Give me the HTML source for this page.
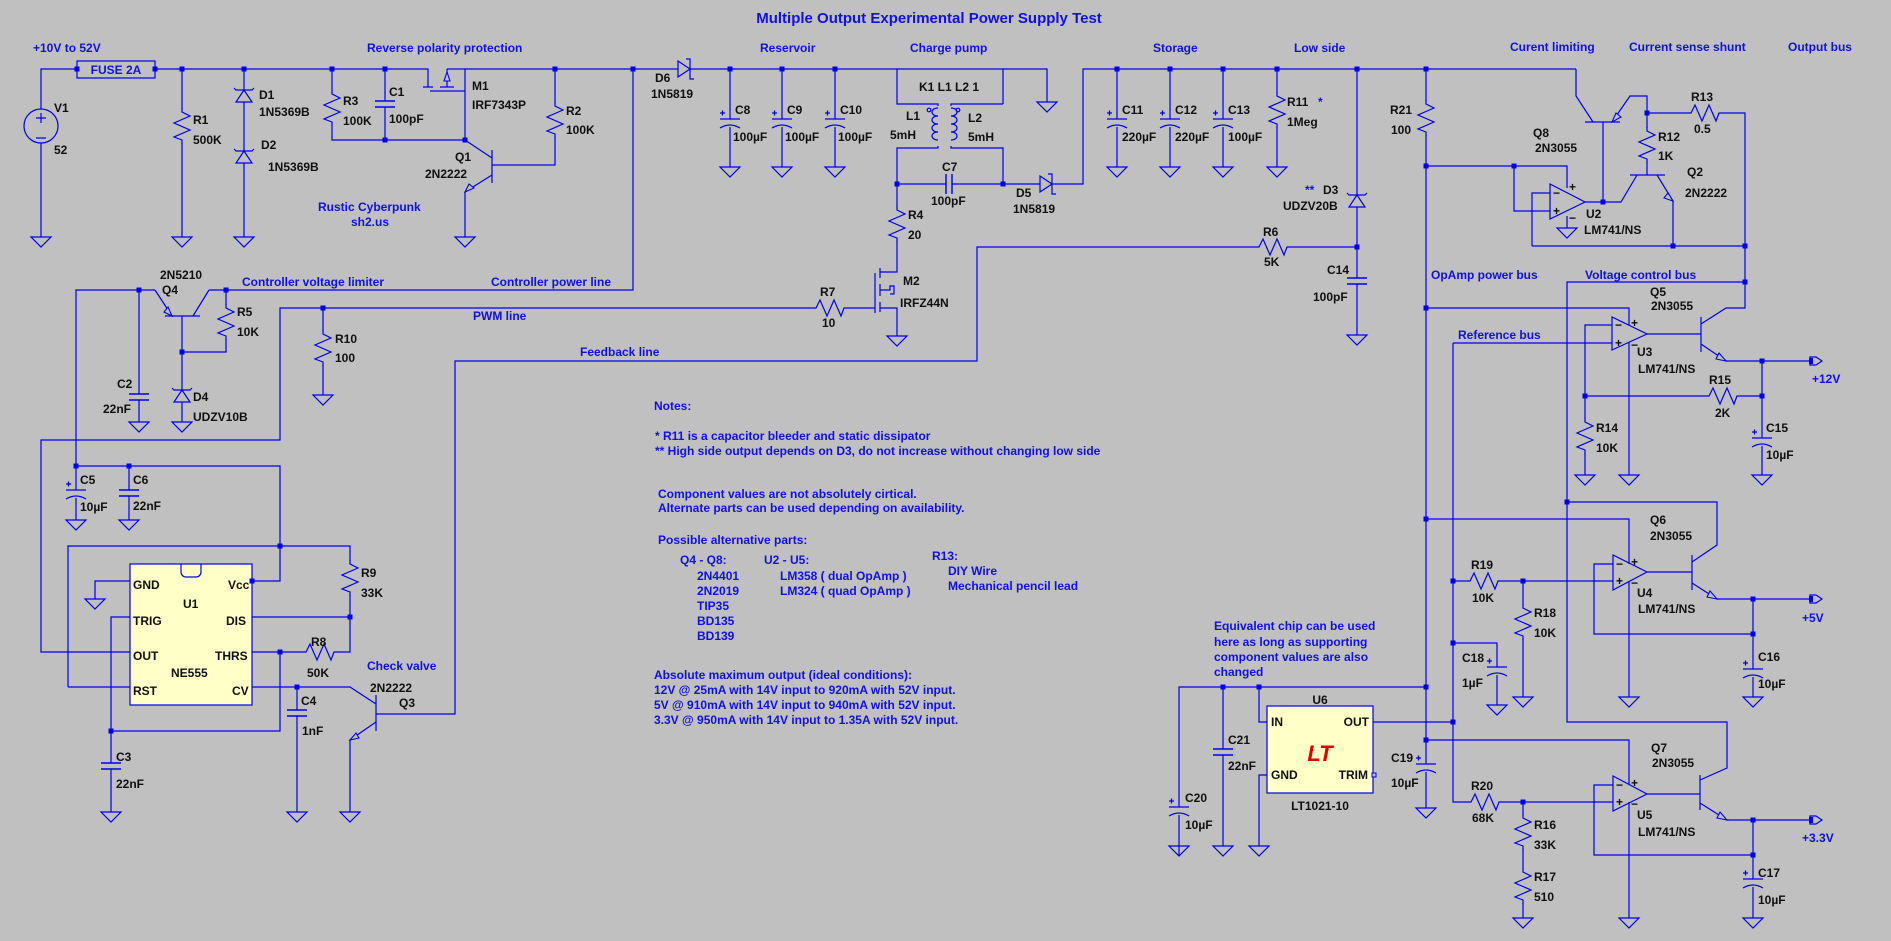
<!DOCTYPE html>
<html><head><meta charset="utf-8"><style>
html,body{margin:0;padding:0;background:#c0c0c0;}
svg{display:block}
text{font-family:"Liberation Sans",sans-serif;font-weight:bold;font-size:12px;}
.b{fill:#1010e0}
.k{fill:#101010}
</style></head><body>
<svg width="1891" height="941" viewBox="0 0 1891 941" xmlns="http://www.w3.org/2000/svg">
<defs>
<symbol id="rv" overflow="visible"><rect x="-9" y="1" width="18" height="34" fill="#c0c0c0"/><path d="M0,0v4l8,4l-16,7l16,7l-16,7l8,3v4" fill="none" stroke="#0000f0" stroke-width="1.2"/></symbol>
<symbol id="rh" overflow="visible"><rect x="1" y="-9" width="34" height="18" fill="#c0c0c0"/><path d="M0,0h4l4,-8l7,16l7,-16l7,16l3,-8h4" fill="none" stroke="#0000f0" stroke-width="1.2"/></symbol>
<symbol id="gnd" overflow="visible"><path d="M-10,0h20l-10,10z" fill="none" stroke="#0000f0" stroke-width="1.2"/></symbol>
<symbol id="cap" overflow="visible"><rect x="-11" y="-3" width="22" height="6" fill="#c0c0c0"/><path d="M-10,-3h20M-10,3h20" stroke="#0000f0" stroke-width="1.4"/></symbol>
<symbol id="caph" overflow="visible"><rect x="-3" y="-11" width="6" height="22" fill="#c0c0c0"/><path d="M-3,-10v20M3,-10v20" stroke="#0000f0" stroke-width="1.4"/></symbol>
<symbol id="ecap" overflow="visible"><rect x="-11" y="-3" width="22" height="8" fill="#c0c0c0"/><path d="M-10,-3h20M-10,6Q0,0 10,6M-10,-9h5M-7.5,-11.5v5" fill="none" stroke="#0000f0" stroke-width="1.3"/></symbol>
<symbol id="dz" overflow="visible"><rect x="-8" y="-6" width="16" height="12" fill="#c0c0c0"/><path d="M-8,6h16L0,-6z M-10,-8l2,2h16l2,-2" fill="none" stroke="#0000f0" stroke-width="1.2"/></symbol>
<symbol id="ds" overflow="visible"><rect x="-6" y="-8" width="12" height="16" fill="#c0c0c0"/><path d="M-6,-8v16L6,0z M2,-10h4v20h4" fill="none" stroke="#0000f0" stroke-width="1.2"/></symbol>
<symbol id="out" overflow="visible"><path d="M0,-4h6l6,4l-6,4h-6z" fill="#c0c0c0" stroke="#0000f0" stroke-width="1.2"/><rect x="-1" y="-3" width="4" height="6" fill="#0000f0"/></symbol>
</defs>

<g fill="none" stroke="#0000f0" stroke-width="1.2">
<!-- left input section -->
<path d="M41,237V69H77M155,69H428V87M182,69V237M244,69V237M332,69V140H465M385,69V140"/>
<path d="M423,87h10M430,91h35M465,69V140M447,69H1003V104M440,87h14M447,69v18M555,69V165H492"/>
<path d="M492,150V183M465,140L492,158M492,175L465,192V237"/>
<path d="M633,69V290H209M209,290L193,316M165,316H200M155,290L172,316M182,316V422M226,290V352H182M155,290H76V466M139,290V422"/>
<path d="M76,466H280V581H252M76,466V520M129,466V520M68,687H130M68,687V546H350V617M252,617H350M252,652H302M338,652H350V617"/>
<path d="M280,652V731H111V617H130M111,731V812M130,581H95V599M252,687H350L376,704M297,687V812M376,695V731M376,714H455V361H977V247H1255M1291,247H1357M376,722L350,740V812"/>
<path d="M130,652H41V440H280V308H812M848,308H875M323,308V395"/>
<!-- charge pump -->
<path d="M897,69V104H938V148H897V184H1040M1052,184H1083V69H1576M1003,184V148H951V104H1003M1003,69H1047V102"/>
<path d="M730,69V167M782,69V167M835,69V167M897,184V272H880M875,273V313M880,268v10M880,284v12M880,302v10M880,308H897V336M880,290h10v-4h4v8h-4"/>
<path d="M1117,69V167M1170,69V167M1223,69V167M1277,69V167M1357,69V335"/>
<!-- right top -->
<path d="M1426,69V808M1576,69V96L1593,122M1585,122H1620M1612,122L1630,96H1647V175M1647,113H1687M1723,113H1745V308H1726L1701,324"/>
<path d="M1630,175H1665M1637,175L1621,202H1585M1603,122V202M1657,175L1673,201V246M1532,246H1745M1532,246V193H1550"/>
<path d="M1426,166H1567V188M1514,166V211H1550M1567,216V228"/>
<path d="M1550,184V219L1585,202Z"/>
<path d="M1745,282H1567V722H1727V768L1700,780M1567,502H1717V545L1692,562"/>
<path d="M1426,308H1629V325M1629,342V475M1426,519H1629V564M1629,581V697M1426,740H1629V785M1629,802V918"/>
<path d="M1453,343H1612M1453,343V802H1467M1503,802H1613M1453,581H1466M1502,581H1613M1523,581V697M1523,802V918M1453,643H1497V705"/>
<path d="M1612,325H1585V475M1585,396H1705M1741,396H1762V475M1762,361V396"/>
<path d="M1612,317V350L1647,334ZM1613,555V590L1647,572ZM1613,776V811L1647,794Z"/>
<path d="M1647,334H1701M1701,317V352M1701,344L1726,361H1810"/>
<path d="M1647,572H1692M1692,555V590M1692,583L1717,599H1810M1753,599V697M1613,564H1594V634H1753"/>
<path d="M1647,794H1700M1700,775V810M1700,803L1727,820H1810M1753,820V918M1613,785H1594V855H1753"/>
<path d="M1179,856V687H1426M1223,687V846M1259,687V722H1267M1373,722H1453M1267,775H1259V846"/>
</g>
<!-- transistor arrows -->
<g fill="#c0c0c0" stroke="#0000f0" stroke-width="1.1">
<path d="M465,192l4,-8l5,4z"/><path d="M172,316l-8,-4l4,-5z"/><path d="M350,740l9,-2l-3,-5z"/>
<path d="M1612,122l4,-9l5,4z"/><path d="M1673,201l-9,-3l4,-5z"/>
<path d="M1726,361l-10,-2l3,-6z"/><path d="M1717,599l-10,-2l3,-6z"/><path d="M1727,820l-10,-2l3,-6z"/>
<path d="M447,72l-3,9h6z"/>
</g>

<!-- V1 -->
<circle cx="41" cy="126" r="17" fill="#c0c0c0" stroke="#0000f0" stroke-width="1.2"/>
<path d="M36,118h10M41,113v10M36,138h10" stroke="#0000f0" stroke-width="1.2"/>
<rect x="77" y="61" width="78" height="17" fill="#c0c0c0" stroke="#0000f0" stroke-width="1.2"/>
<!-- inductors -->
<g fill="none" stroke="#0000f0" stroke-width="1.2">
<rect x="926" y="106" width="16" height="40" fill="#c0c0c0" stroke="none"/>
<path d="M938,108c-8,0 -8,8 0,8c-8,0 -8,8 0,8c-8,0 -8,8 0,8c-8,0 -8,8 0,8"/>
<rect x="947" y="106" width="16" height="40" fill="#c0c0c0" stroke="none"/>
<path d="M951,108c8,0 8,8 0,8c8,0 8,8 0,8c8,0 8,8 0,8c8,0 8,8 0,8"/>
<circle cx="929" cy="110" r="1.8"/><circle cx="958" cy="110" r="1.8"/>
</g>

<!-- resistors -->
<use href="#rv" x="182" y="108"/><use href="#rv" x="332" y="90"/><use href="#rv" x="555" y="102"/>
<use href="#rv" x="226" y="304"/><use href="#rv" x="323" y="330"/><use href="#rv" x="350" y="560"/>
<use href="#rh" x="302" y="652"/><use href="#rh" x="812" y="308"/><use href="#rv" x="897" y="206"/>
<use href="#rv" x="1277" y="92"/><use href="#rh" x="1255" y="247"/><use href="#rv" x="1426" y="100"/>
<use href="#rh" x="1687" y="113"/><use href="#rv" x="1647" y="127"/><use href="#rv" x="1585" y="418"/>
<use href="#rh" x="1705" y="396"/><use href="#rh" x="1466" y="581"/><use href="#rv" x="1523" y="604"/>
<use href="#rh" x="1467" y="802"/><use href="#rv" x="1523" y="814"/><use href="#rv" x="1523" y="868"/>
<!-- caps -->
<use href="#cap" x="385" y="104"/><use href="#cap" x="139" y="397"/><use href="#cap" x="129" y="493"/>
<use href="#cap" x="111" y="766"/><use href="#cap" x="297" y="713"/><use href="#cap" x="1357" y="281"/>
<use href="#cap" x="1223" y="752"/><use href="#caph" x="949" y="184"/>
<use href="#ecap" x="76" y="493"/><use href="#ecap" x="730" y="122"/><use href="#ecap" x="782" y="122"/>
<use href="#ecap" x="835" y="122"/><use href="#ecap" x="1117" y="122"/><use href="#ecap" x="1170" y="122"/>
<use href="#ecap" x="1223" y="122"/><use href="#ecap" x="1762" y="441"/><use href="#ecap" x="1497" y="670"/>
<use href="#ecap" x="1753" y="672"/><use href="#ecap" x="1179" y="810"/><use href="#ecap" x="1426" y="767"/>
<use href="#ecap" x="1753" y="882"/>
<!-- diodes -->
<use href="#dz" x="244" y="96"/><use href="#dz" x="244" y="157"/><use href="#dz" x="182" y="396"/><use href="#dz" x="1357" y="201"/>
<use href="#ds" x="684" y="69"/><use href="#ds" x="1046" y="184"/>
<!-- grounds -->
<g>
<use href="#gnd" x="41" y="237"/><use href="#gnd" x="182" y="237"/><use href="#gnd" x="244" y="237"/><use href="#gnd" x="465" y="237"/>
<use href="#gnd" x="139" y="422"/><use href="#gnd" x="182" y="422"/><use href="#gnd" x="323" y="395"/>
<use href="#gnd" x="76" y="520"/><use href="#gnd" x="129" y="520"/><use href="#gnd" x="95" y="599"/>
<use href="#gnd" x="111" y="812"/><use href="#gnd" x="297" y="812"/><use href="#gnd" x="350" y="812"/>
<use href="#gnd" x="730" y="167"/><use href="#gnd" x="782" y="167"/><use href="#gnd" x="835" y="167"/><use href="#gnd" x="1047" y="102"/>
<use href="#gnd" x="897" y="336"/><use href="#gnd" x="1117" y="167"/><use href="#gnd" x="1170" y="167"/><use href="#gnd" x="1223" y="167"/><use href="#gnd" x="1277" y="167"/>
<use href="#gnd" x="1357" y="335"/><use href="#gnd" x="1567" y="228"/><use href="#gnd" x="1585" y="475"/><use href="#gnd" x="1629" y="475"/><use href="#gnd" x="1762" y="475"/>
<use href="#gnd" x="1497" y="705"/><use href="#gnd" x="1523" y="697"/><use href="#gnd" x="1629" y="697"/><use href="#gnd" x="1753" y="697"/>
<use href="#gnd" x="1179" y="846"/><use href="#gnd" x="1223" y="846"/><use href="#gnd" x="1259" y="846"/><use href="#gnd" x="1426" y="808"/>
<use href="#gnd" x="1523" y="918"/><use href="#gnd" x="1629" y="918"/><use href="#gnd" x="1753" y="918"/>
</g>
<use href="#out" x="1810" y="361"/><use href="#out" x="1810" y="599"/><use href="#out" x="1810" y="820"/>

<!-- ICs -->
<rect x="130" y="564" width="122" height="141" fill="#ffffc8" stroke="#0000f0" stroke-width="1.2"/>
<path d="M181,564v8a5,5 0 0 0 5,5h10a5,5 0 0 0 5,-5v-8" fill="none" stroke="#0000f0" stroke-width="1.2"/>
<rect x="1267" y="706" width="106" height="87" fill="#ffffc8" stroke="#0000f0" stroke-width="1.2"/>
<rect x="1372" y="773" width="4" height="4" fill="#c0c0c0" stroke="#0000f0" stroke-width="1"/>
<text x="1320" y="761" text-anchor="middle" style="font-size:22px;font-style:italic;fill:#e00000">LT</text>

<!-- junctions -->
<g fill="#0000f0">
<path d="M77,69m-2.5,-2.5h5v5h-5zM155,69m-2.5,-2.5h5v5h-5zM182,69m-2.5,-2.5h5v5h-5zM244,69m-2.5,-2.5h5v5h-5zM332,69m-2.5,-2.5h5v5h-5zM385,69m-2.5,-2.5h5v5h-5zM385,140m-2.5,-2.5h5v5h-5zM465,140m-2.5,-2.5h5v5h-5zM555,69m-2.5,-2.5h5v5h-5zM633,69m-2.5,-2.5h5v5h-5zM730,69m-2.5,-2.5h5v5h-5zM782,69m-2.5,-2.5h5v5h-5zM835,69m-2.5,-2.5h5v5h-5zM897,184m-2.5,-2.5h5v5h-5zM1003,184m-2.5,-2.5h5v5h-5zM1117,69m-2.5,-2.5h5v5h-5zM1170,69m-2.5,-2.5h5v5h-5zM1223,69m-2.5,-2.5h5v5h-5zM1277,69m-2.5,-2.5h5v5h-5zM1357,69m-2.5,-2.5h5v5h-5zM1426,69m-2.5,-2.5h5v5h-5zM1357,247m-2.5,-2.5h5v5h-5z"/>
<path d="M139,290m-2.5,-2.5h5v5h-5zM226,290m-2.5,-2.5h5v5h-5zM182,352m-2.5,-2.5h5v5h-5zM323,308m-2.5,-2.5h5v5h-5zM76,466m-2.5,-2.5h5v5h-5zM129,466m-2.5,-2.5h5v5h-5zM280,546m-2.5,-2.5h5v5h-5zM252,581m-2.5,-2.5h5v5h-5zM350,617m-2.5,-2.5h5v5h-5zM280,652m-2.5,-2.5h5v5h-5zM297,687m-2.5,-2.5h5v5h-5zM111,731m-2.5,-2.5h5v5h-5z"/>
<path d="M1426,166m-2.5,-2.5h5v5h-5zM1514,166m-2.5,-2.5h5v5h-5zM1603,202m-2.5,-2.5h5v5h-5zM1647,113m-2.5,-2.5h5v5h-5zM1673,246m-2.5,-2.5h5v5h-5zM1745,246m-2.5,-2.5h5v5h-5zM1745,282m-2.5,-2.5h5v5h-5zM1426,308m-2.5,-2.5h5v5h-5zM1567,502m-2.5,-2.5h5v5h-5zM1426,519m-2.5,-2.5h5v5h-5zM1585,396m-2.5,-2.5h5v5h-5zM1762,396m-2.5,-2.5h5v5h-5zM1762,361m-2.5,-2.5h5v5h-5zM1453,581m-2.5,-2.5h5v5h-5zM1523,581m-2.5,-2.5h5v5h-5zM1453,643m-2.5,-2.5h5v5h-5zM1753,599m-2.5,-2.5h5v5h-5zM1753,634m-2.5,-2.5h5v5h-5zM1223,687m-2.5,-2.5h5v5h-5zM1259,687m-2.5,-2.5h5v5h-5zM1426,687m-2.5,-2.5h5v5h-5zM1453,722m-2.5,-2.5h5v5h-5zM1426,740m-2.5,-2.5h5v5h-5zM1523,802m-2.5,-2.5h5v5h-5zM1753,820m-2.5,-2.5h5v5h-5zM1753,855m-2.5,-2.5h5v5h-5z"/>
</g>

<!-- opamp pin signs -->
<g class="k" style="font-size:10px">
<text x="1553" y="197">−</text><text x="1553" y="215">+</text><text x="1569" y="191">+</text><text x="1569" y="222">−</text>
<text x="1615" y="329">−</text><text x="1615" y="347">+</text><text x="1631" y="327">+</text><text x="1631" y="349">−</text>
<text x="1616" y="568">−</text><text x="1616" y="585">+</text><text x="1631" y="566">+</text><text x="1631" y="587">−</text>
<text x="1616" y="789">−</text><text x="1616" y="806">+</text><text x="1631" y="787">+</text><text x="1631" y="808">−</text>
</g>

<!-- blue annotations -->
<g class="b">
<text x="929" y="23" text-anchor="middle" style="font-size:15px">Multiple Output Experimental Power Supply Test</text>
<text x="33" y="52">+10V to 52V</text>
<text x="116" y="74" text-anchor="middle">FUSE 2A</text>
<text x="367" y="52">Reverse polarity protection</text>
<text x="760" y="52">Reservoir</text>
<text x="910" y="52">Charge pump</text>
<text x="1153" y="52">Storage</text>
<text x="1294" y="52">Low side</text>
<text x="1510" y="51">Curent limiting</text>
<text x="1629" y="51">Current sense shunt</text>
<text x="1788" y="51">Output bus</text>
<text x="318" y="211">Rustic Cyberpunk</text>
<text x="351" y="226">sh2.us</text>
<text x="242" y="286">Controller voltage limiter</text>
<text x="491" y="286">Controller power line</text>
<text x="473" y="320">PWM line</text>
<text x="580" y="356">Feedback line</text>
<text x="1431" y="279">OpAmp power bus</text>
<text x="1585" y="279">Voltage control bus</text>
<text x="1458" y="339">Reference bus</text>
<text x="367" y="670">Check valve</text>
<text x="1318" y="106">*</text>
<text x="1305" y="194">**</text>
<text x="1812" y="383">+12V</text>
<text x="1802" y="622">+5V</text>
<text x="1802" y="842">+3.3V</text>
<text x="1214" y="630">Equivalent chip can be used</text>
<text x="1214" y="646">here as long as supporting</text>
<text x="1214" y="661">component values are also</text>
<text x="1214" y="676">changed</text>
<text x="654" y="410">Notes:</text>
<text x="655" y="440">* R11 is a capacitor bleeder and static dissipator</text>
<text x="655" y="455">** High side output depends on D3, do not increase without changing low side</text>
<text x="658" y="498">Component values are not absolutely cirtical.</text>
<text x="658" y="512">Alternate parts can be used depending on availability.</text>
<text x="658" y="544">Possible alternative parts:</text>
<text x="680" y="564">Q4 - Q8:</text><text x="764" y="564">U2 - U5:</text><text x="932" y="560">R13:</text>
<text x="697" y="580">2N4401</text><text x="697" y="595">2N2019</text><text x="697" y="610">TIP35</text><text x="697" y="625">BD135</text><text x="697" y="640">BD139</text>
<text x="780" y="580">LM358 ( dual OpAmp )</text><text x="780" y="595">LM324 ( quad OpAmp )</text>
<text x="948" y="575">DIY Wire</text><text x="948" y="590">Mechanical pencil lead</text>
<text x="654" y="679">Absolute maximum output (ideal conditions):</text>
<text x="654" y="694">12V @ 25mA with 14V input to 920mA with 52V input.</text>
<text x="654" y="709">5V @ 910mA with 14V input to 940mA with 52V input.</text>
<text x="654" y="724">3.3V @ 950mA with 14V input to 1.35A with 52V input.</text>
</g>

<!-- black component labels -->
<g class="k">
<text x="54" y="112">V1</text><text x="54" y="154">52</text>
<text x="193" y="124">R1</text><text x="193" y="144">500K</text>
<text x="259" y="99">D1</text><text x="259" y="116">1N5369B</text>
<text x="261" y="149">D2</text><text x="268" y="171">1N5369B</text>
<text x="343" y="105">R3</text><text x="343" y="125">100K</text>
<text x="389" y="96">C1</text><text x="389" y="123">100pF</text>
<text x="472" y="90">M1</text><text x="472" y="109">IRF7343P</text>
<text x="566" y="115">R2</text><text x="566" y="134">100K</text>
<text x="455" y="161">Q1</text><text x="425" y="178">2N2222</text>
<text x="655" y="82">D6</text><text x="651" y="98">1N5819</text>
<text x="735" y="114">C8</text><text x="733" y="141">100µF</text>
<text x="787" y="114">C9</text><text x="785" y="141">100µF</text>
<text x="840" y="114">C10</text><text x="838" y="141">100µF</text>
<text x="919" y="91">K1 L1 L2 1</text>
<text x="906" y="120">L1</text><text x="890" y="139">5mH</text>
<text x="968" y="122">L2</text><text x="968" y="141">5mH</text>
<text x="942" y="171">C7</text><text x="931" y="205">100pF</text>
<text x="1016" y="197">D5</text><text x="1013" y="213">1N5819</text>
<text x="908" y="219">R4</text><text x="908" y="239">20</text>
<text x="903" y="285">M2</text><text x="900" y="307">IRFZ44N</text>
<text x="820" y="296">R7</text><text x="822" y="327">10</text>
<text x="1122" y="114">C11</text><text x="1122" y="141">220µF</text>
<text x="1175" y="114">C12</text><text x="1175" y="141">220µF</text>
<text x="1228" y="114">C13</text><text x="1228" y="141">100µF</text>
<text x="1287" y="106">R11</text><text x="1287" y="126">1Meg</text>
<text x="1323" y="194">D3</text><text x="1283" y="210">UDZV20B</text>
<text x="1263" y="236">R6</text><text x="1264" y="266">5K</text>
<text x="1327" y="274">C14</text><text x="1313" y="301">100pF</text>
<text x="160" y="279">2N5210</text><text x="162" y="294">Q4</text>
<text x="237" y="316">R5</text><text x="237" y="336">10K</text>
<text x="335" y="343">R10</text><text x="335" y="362">100</text>
<text x="117" y="388">C2</text><text x="103" y="413">22nF</text>
<text x="193" y="401">D4</text><text x="193" y="421">UDZV10B</text>
<text x="80" y="484">C5</text><text x="80" y="511">10µF</text>
<text x="133" y="484">C6</text><text x="133" y="510">22nF</text>
<text x="133" y="589">GND</text><text x="228" y="589">Vcc</text><text x="183" y="608">U1</text>
<text x="133" y="625">TRIG</text><text x="226" y="625">DIS</text>
<text x="133" y="660">OUT</text><text x="215" y="660">THRS</text><text x="171" y="677">NE555</text>
<text x="133" y="695">RST</text><text x="232" y="695">CV</text>
<text x="361" y="577">R9</text><text x="361" y="597">33K</text>
<text x="311" y="646">R8</text><text x="307" y="677">50K</text>
<text x="370" y="692">2N2222</text><text x="399" y="707">Q3</text>
<text x="301" y="705">C4</text><text x="302" y="735">1nF</text>
<text x="116" y="761">C3</text><text x="116" y="788">22nF</text>
<text x="1390" y="114">R21</text><text x="1391" y="134">100</text>
<text x="1533" y="137">Q8</text><text x="1535" y="152">2N3055</text>
<text x="1691" y="101">R13</text><text x="1694" y="133">0.5</text>
<text x="1658" y="141">R12</text><text x="1658" y="160">1K</text>
<text x="1687" y="176">Q2</text><text x="1685" y="197">2N2222</text>
<text x="1586" y="218">U2</text><text x="1584" y="234">LM741/NS</text>
<text x="1650" y="296">Q5</text><text x="1651" y="310">2N3055</text>
<text x="1637" y="356">U3</text><text x="1638" y="373">LM741/NS</text>
<text x="1709" y="384">R15</text><text x="1715" y="417">2K</text>
<text x="1596" y="432">R14</text><text x="1596" y="452">10K</text>
<text x="1766" y="432">C15</text><text x="1766" y="459">10µF</text>
<text x="1650" y="524">Q6</text><text x="1650" y="540">2N3055</text>
<text x="1471" y="569">R19</text><text x="1472" y="602">10K</text>
<text x="1534" y="617">R18</text><text x="1534" y="637">10K</text>
<text x="1637" y="597">U4</text><text x="1638" y="613">LM741/NS</text>
<text x="1758" y="661">C16</text><text x="1758" y="688">10µF</text>
<text x="1462" y="662">C18</text><text x="1462" y="687">1µF</text>
<text x="1320" y="704" text-anchor="middle">U6</text>
<text x="1271" y="726">IN</text><text x="1369" y="726" text-anchor="end">OUT</text>
<text x="1271" y="779">GND</text><text x="1368" y="779" text-anchor="end">TRIM</text>
<text x="1320" y="810" text-anchor="middle">LT1021-10</text>
<text x="1228" y="744">C21</text><text x="1228" y="770">22nF</text>
<text x="1185" y="802">C20</text><text x="1185" y="829">10µF</text>
<text x="1391" y="762">C19</text><text x="1391" y="787">10µF</text>
<text x="1471" y="790">R20</text><text x="1472" y="822">68K</text>
<text x="1534" y="829">R16</text><text x="1534" y="849">33K</text>
<text x="1534" y="881">R17</text><text x="1534" y="901">510</text>
<text x="1651" y="752">Q7</text><text x="1652" y="767">2N3055</text>
<text x="1637" y="819">U5</text><text x="1638" y="836">LM741/NS</text>
<text x="1758" y="877">C17</text><text x="1758" y="904">10µF</text>
</g>
</svg>
</body></html>
